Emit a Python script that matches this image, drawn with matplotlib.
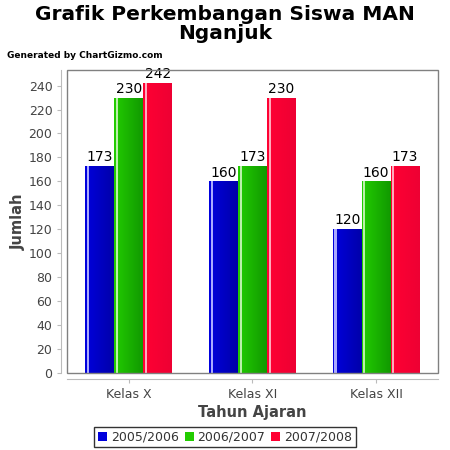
import numpy as np
import matplotlib.pyplot as plt
from matplotlib.patches import Rectangle
from matplotlib.colors import LinearSegmentedColormap

categories = ["Kelas X", "Kelas XI", "Kelas XII"]
series = ["2005/2006", "2006/2007", "2007/2008"]
values = [
    [173, 160, 120],
    [230, 173, 160],
    [242, 230, 173],
]
colors = ["#0000DD", "#22CC00", "#FF0033"]
light = ["#AAAAFF", "#BBF0AA", "#FFAABB"]
dark = ["#0000AA", "#119900", "#EE0033"]

fig = plt.figure(figsize=(4.5, 4.5), dpi=100)
ax = fig.add_axes([67 / 450, 1 - 373 / 450, 371 / 450, 303 / 450])

x = np.arange(len(categories))
w = 0.234
for i, s in enumerate(series):
    pos = x + (i - 1) * w
    bars = ax.bar(pos, values[i], width=w, color=colors[i], label=s, zorder=2)
    cmap = LinearSegmentedColormap.from_list("g", [colors[i], dark[i]])
    for b in bars:
        bx, bw, bh = b.get_x(), b.get_width(), b.get_height()
        grad = np.linspace(0, 1, 64).reshape(1, -1)
        im = ax.imshow(grad, extent=[bx, bx + bw, 0, bh], aspect="auto",
                       cmap=cmap, zorder=2.1)
        im.set_clip_path(b)
        ax.add_patch(Rectangle((bx + bw * 0.06, 0), bw * 0.07, bh,
                               color=light[i], lw=0, zorder=2.2))
        ax.add_patch(Rectangle((bx, 0), bw * 0.05, bh,
                               color=colors[i], lw=0, zorder=2.2))
        ax.text(bx + bw / 2, bh + 1.5, str(int(bh)), ha="center", va="bottom",
                fontsize=10, color="black", zorder=3)

ax.set_xlim(-0.5, 2.5)
ax.set_ylim(0, 253)
ax.set_yticks(range(0, 241, 20))
ax.set_xticks(x)
ax.set_xticklabels(categories)
ax.tick_params(axis="both", colors="#BBBBBB", labelcolor="#444444",
               labelsize=9, length=3)

for sp in ["top", "right"]:
    ax.spines[sp].set_visible(False)
for sp in ["left", "bottom"]:
    ax.spines[sp].set_position(("outward", 4))
    ax.spines[sp].set_color("#BBBBBB")
ax.add_patch(Rectangle((0, 0), 1, 1, transform=ax.transAxes, fill=False,
                       edgecolor="#808080", lw=1, zorder=4, clip_on=False))

ax.set_ylabel("Jumlah", fontsize=10.5, fontweight="bold", color="#444444",
              labelpad=2)
ax.set_xlabel("Tahun Ajaran", fontsize=10.5, fontweight="bold", color="#444444",
              labelpad=3)

fig.text(0.5, 0.99, "Grafik Perkembangan Siswa MAN\nNganjuk", ha="center",
         va="top", fontsize=14.5, fontweight="bold", linespacing=1.05)
fig.text(7 / 450, 1 - 55 / 450, "Generated by ChartGizmo.com", ha="left",
         va="center", fontsize=6.5, fontweight="bold")

leg = fig.legend(loc="center", bbox_to_anchor=(225 / 450, 1 - 437 / 450),
                 ncol=3, fontsize=9, frameon=True, fancybox=False,
                 handlelength=0.7, handleheight=0.7, handletextpad=0.3,
                 columnspacing=0.5, borderpad=0.3)
leg.get_frame().set_edgecolor("black")
for t in leg.get_texts():
    t.set_color("#333333")

fig.savefig("out.png", dpi=100)
